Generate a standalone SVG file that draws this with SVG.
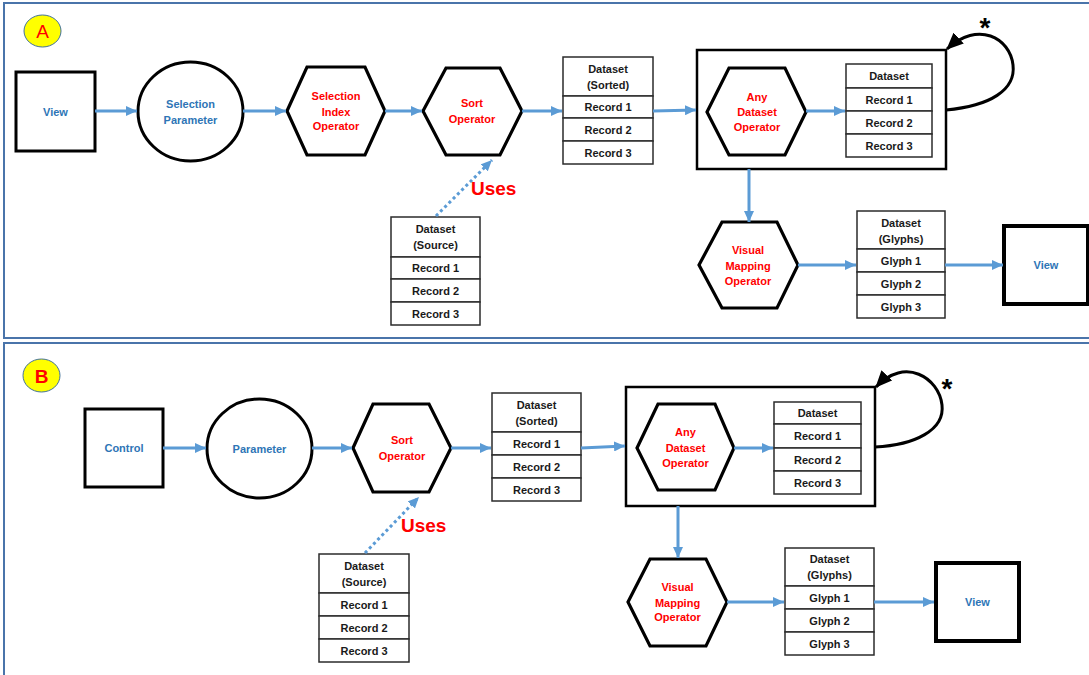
<svg xmlns="http://www.w3.org/2000/svg" width="1089" height="675" viewBox="0 0 1089 675">
  <style>
    .panel { fill: #ffffff; stroke: #4a74aa; stroke-width: 2; }
    .badge { fill: #ffff00; stroke: #41719c; stroke-width: 1; }
    .badgeText { font-family: "Liberation Sans", Arial, sans-serif; font-size: 19px; fill: #ff0000; text-anchor: middle; }
    .box { fill: #ffffff; stroke: #000000; stroke-width: 3; }
    .boxThick { fill: #ffffff; stroke: #000000; stroke-width: 4; }
    .frame { fill: none; stroke: #000000; stroke-width: 2.5; }
    .shape { fill: #ffffff; stroke: #000000; stroke-width: 3.2; stroke-linejoin: miter; }
    .cell { fill: #ffffff; stroke: #2b2b2b; stroke-width: 1.5; }
    .lbl { font-family: "Liberation Sans", Arial, sans-serif; font-weight: bold; font-size: 11px; text-anchor: middle; dominant-baseline: central; }
    .blue { fill: #2e75b6; }
    .red { fill: #ff0000; }
    .dark { fill: #1a1a1a; }
    .flow { fill: none; stroke: #5b9bd5; stroke-width: 3; marker-end: url(#blueHead); }
    .dots { fill: none; stroke: #5b9bd5; stroke-width: 3; stroke-dasharray: 3 3; marker-end: url(#blueHead); }
    .loop { fill: none; stroke: #000000; stroke-width: 3; marker-end: url(#blackHead); }
    .uses { font-family: "Liberation Sans", Arial, sans-serif; font-weight: bold; font-size: 19px; fill: #ff0000; }
    .star { font-family: "Liberation Sans", Arial, sans-serif; font-weight: bold; font-size: 28px; fill: #000000; text-anchor: middle; }
  </style>
  <defs>
    <marker id="blueHead" markerUnits="userSpaceOnUse" markerWidth="11" markerHeight="10" refX="11" refY="5" orient="auto">
      <path d="M0,0 L11,5 L0,10 z" fill="#5b9bd5"/>
    </marker>
    <marker id="blackHead" markerUnits="userSpaceOnUse" markerWidth="17" markerHeight="15" refX="16" refY="7.5" orient="auto">
      <path d="M0,0 L17,7.5 L0,15 z" fill="#000000"/>
    </marker>
  </defs>

  <!-- panel frames -->
  <rect class="panel" x="4" y="3" width="1092" height="335"/>
  <rect class="panel" x="4" y="343" width="1092" height="340"/>

  <!-- panel badges -->
  <g id="badgeA">
    <ellipse class="badge" cx="42.5" cy="31" rx="18.5" ry="16"/>
    <text class="badgeText" x="42.5" y="38">A</text>
  </g>
  <g id="badgeB">
    <ellipse class="badge" cx="41.5" cy="375.5" rx="18.5" ry="16.5"/>
    <text class="badgeText" x="41.5" y="382.5" font-weight="bold">B</text>
  </g>

  <!-- ===== Panel A nodes ===== -->
  <g id="a-view-in">
    <rect class="box" x="16" y="72" width="79" height="79"/>
    <text class="lbl blue" x="55.5" y="111.5">View</text>
  </g>
  <g id="a-selection-parameter">
    <ellipse class="box" cx="190.5" cy="111.5" rx="52.5" ry="49.5"/>
    <text class="lbl blue" x="190.5" y="104">Selection</text>
    <text class="lbl blue" x="190.5" y="120">Parameter</text>
  </g>
  <g id="a-selection-index-operator">
    <polygon class="shape" points="287,111 307,67 365,67 385,111 365,155 307,155"/>
    <text class="lbl red" x="336" y="96">Selection</text>
    <text class="lbl red" x="336" y="111.5">Index</text>
    <text class="lbl red" x="336" y="126">Operator</text>
  </g>
  <g id="a-sort-operator">
    <polygon class="shape" points="423,111 446,68 500,68 522,111 500,155 446,155"/>
    <text class="lbl red" x="472" y="103">Sort</text>
    <text class="lbl red" x="472" y="119">Operator</text>
  </g>
  <g id="a-dataset-sorted">
    <rect class="cell" x="563" y="57" width="90" height="39"/>
    <rect class="cell" x="563" y="96" width="90" height="22"/>
    <rect class="cell" x="563" y="118" width="90" height="23"/>
    <rect class="cell" x="563" y="141" width="90" height="23"/>
    <text class="lbl dark" x="608" y="69">Dataset</text>
    <text class="lbl dark" x="608" y="85">(Sorted)</text>
    <text class="lbl dark" x="608" y="107">Record 1</text>
    <text class="lbl dark" x="608" y="130">Record 2</text>
    <text class="lbl dark" x="608" y="153">Record 3</text>
  </g>
  <g id="a-any-dataset-block">
    <rect class="frame" x="697" y="50" width="249" height="119"/>
    <polygon class="shape" points="707,112 729,68 785,68 806,112 785,155 729,155"/>
    <text class="lbl red" x="757" y="97">Any</text>
    <text class="lbl red" x="757" y="112">Dataset</text>
    <text class="lbl red" x="757" y="127">Operator</text>
    <rect class="cell" x="846" y="64" width="86" height="24"/>
    <rect class="cell" x="846" y="88" width="86" height="23"/>
    <rect class="cell" x="846" y="111" width="86" height="23"/>
    <rect class="cell" x="846" y="134" width="86" height="23"/>
    <text class="lbl dark" x="889" y="76">Dataset</text>
    <text class="lbl dark" x="889" y="100">Record 1</text>
    <text class="lbl dark" x="889" y="123">Record 2</text>
    <text class="lbl dark" x="889" y="146">Record 3</text>
  </g>
  <g id="a-visual-mapping-operator">
    <polygon class="shape" points="699,265 722,222 777,222 798,265 777,308 722,308"/>
    <text class="lbl red" x="748" y="250">Visual</text>
    <text class="lbl red" x="748" y="266">Mapping</text>
    <text class="lbl red" x="748" y="281">Operator</text>
  </g>
  <g id="a-dataset-glyphs">
    <rect class="cell" x="857" y="211" width="88" height="38"/>
    <rect class="cell" x="857" y="249" width="88" height="23"/>
    <rect class="cell" x="857" y="272" width="88" height="23"/>
    <rect class="cell" x="857" y="295" width="88" height="23"/>
    <text class="lbl dark" x="901" y="223">Dataset</text>
    <text class="lbl dark" x="901" y="239">(Glyphs)</text>
    <text class="lbl dark" x="901" y="261">Glyph 1</text>
    <text class="lbl dark" x="901" y="284">Glyph 2</text>
    <text class="lbl dark" x="901" y="307">Glyph 3</text>
  </g>
  <g id="a-view-out">
    <rect class="boxThick" x="1004" y="226" width="84" height="78"/>
    <text class="lbl blue" x="1046" y="265">View</text>
  </g>
  <g id="a-dataset-source">
    <rect class="cell" x="391" y="217" width="89" height="40"/>
    <rect class="cell" x="391" y="257" width="89" height="22"/>
    <rect class="cell" x="391" y="279" width="89" height="23"/>
    <rect class="cell" x="391" y="302" width="89" height="23"/>
    <text class="lbl dark" x="435.5" y="229">Dataset</text>
    <text class="lbl dark" x="435.5" y="245">(Source)</text>
    <text class="lbl dark" x="435.5" y="268">Record 1</text>
    <text class="lbl dark" x="435.5" y="291">Record 2</text>
    <text class="lbl dark" x="435.5" y="314">Record 3</text>
  </g>

  <!-- ===== Panel B nodes ===== -->
  <g id="b-control">
    <rect class="box" x="85" y="409" width="78" height="78"/>
    <text class="lbl blue" x="124" y="448">Control</text>
  </g>
  <g id="b-parameter">
    <ellipse class="box" cx="259.5" cy="448.5" rx="52.5" ry="49.5"/>
    <text class="lbl blue" x="259.5" y="448.5">Parameter</text>
  </g>
  <g id="b-sort-operator">
    <polygon class="shape" points="353,448 373,404 429,404 451,448 429,492 373,492"/>
    <text class="lbl red" x="402" y="440">Sort</text>
    <text class="lbl red" x="402" y="456">Operator</text>
  </g>
  <g id="b-dataset-sorted">
    <rect class="cell" x="492" y="393" width="89" height="39"/>
    <rect class="cell" x="492" y="432" width="89" height="23"/>
    <rect class="cell" x="492" y="455" width="89" height="23"/>
    <rect class="cell" x="492" y="478" width="89" height="23"/>
    <text class="lbl dark" x="536.5" y="405">Dataset</text>
    <text class="lbl dark" x="536.5" y="421">(Sorted)</text>
    <text class="lbl dark" x="536.5" y="443.5">Record 1</text>
    <text class="lbl dark" x="536.5" y="466.5">Record 2</text>
    <text class="lbl dark" x="536.5" y="489.5">Record 3</text>
  </g>
  <g id="b-any-dataset-block">
    <rect class="frame" x="626" y="387" width="249" height="119"/>
    <polygon class="shape" points="637,448 658,404 715,404 734,448 715,490 658,490"/>
    <text class="lbl red" x="685.5" y="432">Any</text>
    <text class="lbl red" x="685.5" y="448">Dataset</text>
    <text class="lbl red" x="685.5" y="463">Operator</text>
    <rect class="cell" x="774" y="402" width="87" height="22"/>
    <rect class="cell" x="774" y="424" width="87" height="24"/>
    <rect class="cell" x="774" y="448" width="87" height="23"/>
    <rect class="cell" x="774" y="471" width="87" height="23"/>
    <text class="lbl dark" x="817.5" y="413">Dataset</text>
    <text class="lbl dark" x="817.5" y="436">Record 1</text>
    <text class="lbl dark" x="817.5" y="459.5">Record 2</text>
    <text class="lbl dark" x="817.5" y="482.5">Record 3</text>
  </g>
  <g id="b-visual-mapping-operator">
    <polygon class="shape" points="628,602 650,559 706,559 727,602 706,646 650,646"/>
    <text class="lbl red" x="677.5" y="587">Visual</text>
    <text class="lbl red" x="677.5" y="603">Mapping</text>
    <text class="lbl red" x="677.5" y="617">Operator</text>
  </g>
  <g id="b-dataset-glyphs">
    <rect class="cell" x="785" y="548" width="89" height="38"/>
    <rect class="cell" x="785" y="586" width="89" height="23"/>
    <rect class="cell" x="785" y="609" width="89" height="23"/>
    <rect class="cell" x="785" y="632" width="89" height="23"/>
    <text class="lbl dark" x="829.5" y="559">Dataset</text>
    <text class="lbl dark" x="829.5" y="575">(Glyphs)</text>
    <text class="lbl dark" x="829.5" y="597.5">Glyph 1</text>
    <text class="lbl dark" x="829.5" y="620.5">Glyph 2</text>
    <text class="lbl dark" x="829.5" y="643.5">Glyph 3</text>
  </g>
  <g id="b-view">
    <rect class="boxThick" x="936" y="563" width="83" height="78"/>
    <text class="lbl blue" x="977.5" y="602">View</text>
  </g>
  <g id="b-dataset-source">
    <rect class="cell" x="319" y="554" width="90" height="39"/>
    <rect class="cell" x="319" y="593" width="90" height="23"/>
    <rect class="cell" x="319" y="616" width="90" height="23"/>
    <rect class="cell" x="319" y="639" width="90" height="23"/>
    <text class="lbl dark" x="364" y="566">Dataset</text>
    <text class="lbl dark" x="364" y="582">(Source)</text>
    <text class="lbl dark" x="364" y="604.5">Record 1</text>
    <text class="lbl dark" x="364" y="627.5">Record 2</text>
    <text class="lbl dark" x="364" y="650.5">Record 3</text>
  </g>

  <!-- ===== connectors ===== -->
  <g id="connectors">
    <!-- panel A -->
    <line class="flow" x1="95" y1="111" x2="137" y2="111"/>
    <line class="flow" x1="243" y1="111" x2="286" y2="111"/>
    <line class="flow" x1="385" y1="111" x2="422" y2="111"/>
    <line class="flow" x1="522" y1="111" x2="562" y2="111"/>
    <line class="flow" x1="653" y1="111" x2="696" y2="110"/>
    <line class="flow" x1="806" y1="111" x2="845" y2="111"/>
    <line class="flow" x1="749" y1="169" x2="749" y2="222"/>
    <line class="flow" x1="798" y1="265" x2="856" y2="265"/>
    <line class="flow" x1="945" y1="265" x2="1003" y2="265"/>
    <line class="dots" x1="436" y1="216" x2="492" y2="160"/>
    <path class="loop" d="M946,110 C990,106 1016,90 1013,65 C1010,38 978,20 947,49"/>
    <!-- panel B -->
    <line class="flow" x1="163" y1="448" x2="206" y2="448"/>
    <line class="flow" x1="312" y1="448" x2="352" y2="448"/>
    <line class="flow" x1="451" y1="448" x2="491" y2="448"/>
    <line class="flow" x1="581" y1="448" x2="625" y2="446"/>
    <line class="flow" x1="734" y1="448" x2="773" y2="448"/>
    <line class="flow" x1="678" y1="506" x2="678" y2="558"/>
    <line class="flow" x1="727" y1="602" x2="784" y2="602"/>
    <line class="flow" x1="874" y1="602" x2="934" y2="602"/>
    <line class="dots" x1="365" y1="553" x2="419" y2="497"/>
    <path class="loop" d="M875,447 C915,445 945,430 942,405 C939,378 905,356 876,387"/>
  </g>

  <!-- annotations -->
  <text class="uses" x="471" y="195">Uses</text>
  <text class="uses" x="401" y="532">Uses</text>
  <text class="star" x="985" y="37">*</text>
  <text class="star" x="947" y="398">*</text>
</svg>
